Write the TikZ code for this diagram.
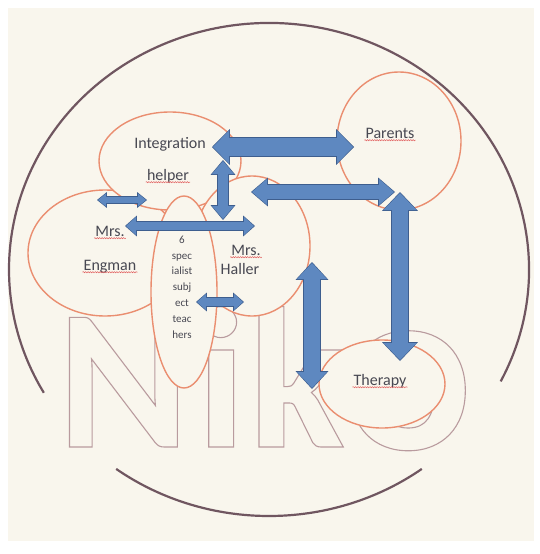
\documentclass[tikz,border=0pt]{standalone}
\usepackage{fontspec}
\setmainfont{Carlito}
\usetikzlibrary{arrows.meta,shapes.geometric,decorations.pathmorphing}
\definecolor{paper}{RGB}{249,246,237}
\definecolor{ringcol}{RGB}{112,86,96}
\definecolor{ovalcol}{RGB}{234,142,112}
\definecolor{txtcol}{RGB}{72,72,82}
\definecolor{arrowfill}{RGB}{94,136,192}
\definecolor{arrowedge}{RGB}{62,94,142}
\definecolor{squig}{RGB}{225,95,95}
\definecolor{lettercol}{RGB}{185,155,158}

% stroke the glyphs only (text render mode 1)
\newcommand{\outlined}[1]{\special{pdf:literal direct 1 Tr}#1\special{pdf:literal direct 0 Tr}}

\tikzset{blk/.code n args={3}{%
  \pgfmathsetmacro\blkw{#1+1.4}%
  \pgfmathsetmacro\blkh{#2+2.8}%
  \pgfmathsetmacro\blkl{#3+1.8}%
  \edef\blkpre{\noexpand\tikzset{preaction={draw=arrowedge, line width=\blkw pt, shorten <=-1pt, shorten >=-1pt, {Triangle[width=\blkh pt,length=\blkl pt,line width=0pt]}-{Triangle[width=\blkh pt,length=\blkl pt,line width=0pt]}}}}%
  \blkpre
  \tikzset{draw=arrowfill, line width=#1pt, {Triangle[width=#2pt,length=#3pt,line width=0pt]}-{Triangle[width=#2pt,length=#3pt,line width=0pt]}}}}

\begin{document}
\begin{tikzpicture}[x=1pt,y=-1pt,inner sep=1pt]
\tikzstyle{oval}=[ellipse, draw=ovalcol, line width=1.4pt, fill=paper, inner sep=0pt]
\tikzstyle{lbl}=[text=txtcol, font=\fontsize{16}{18}\selectfont, anchor=base]
\tikzstyle{squiggle}=[draw=squig, line width=0.5pt, decorate, decoration={snake, amplitude=0.6pt, segment length=2.4pt}]
\tikzstyle{spell}=[append after command={([yshift=-2.2pt]\tikzlastnode.base west) edge[squiggle] ([yshift=-2.2pt]\tikzlastnode.base east)}]
\tikzstyle{letter}=[text=lettercol, line width=1.1pt, anchor=base west, inner sep=0pt]
\tikzstyle{ring}=[draw=ringcol, line width=2.2pt]
\useasboundingbox (0,0) rectangle (540,554);
\fill[white] (0,0) rectangle (540,554);
\fill[paper] (8,8) rectangle (534,541);
% big letters
\node[letter, font=\fontsize{200}{200}\bfseries\selectfont] (ltrn) at (57,447) {\outlined{N}};
\node[letter, font=\fontsize{200}{200}\bfseries\selectfont] (ltri) at (196,447) {\outlined{i}};
\node[letter, font=\fontsize{200}{200}\bfseries\selectfont] (ltrk) at (248,447) {\outlined{k}};
\node[letter, font=\fontsize{240}{240}\bfseries\selectfont] (ltro) at (343,449) {\outlined{o}};
% ovals
\node[oval, minimum width=154pt, minimum height=126pt] (eng) at (105,253) {};
\node[oval, minimum width=142pt, minimum height=98pt] (ih) at (170,161) {};
\node[oval, minimum width=116pt, minimum height=140pt] (hal) at (252,246) {};
\node[oval, minimum width=124pt, minimum height=138pt] (par) at (399,141) {};
\node[oval, minimum width=66pt, minimum height=192pt] (spec) at (184,292) {};
\node[oval, minimum width=126pt, minimum height=88pt] (ther) at (382,384) {};
% labels
\node[lbl] (iht1) at (170,148) {Integration};
\node[lbl,spell] (iht2) at (168,180) {helper};
\node[lbl,spell] (part) at (390,138) {Parents};
\node[lbl,spell] (engt1) at (110,236) {Mrs.};
\node[lbl,spell] (engt2) at (110,270) {Engman};
\node[lbl,spell] (halt1) at (246,255) {Mrs.};
\node[lbl] (halt2) at (240,274) {Haller};
\node[lbl,spell] (thert) at (380,385) {Therapy};
\node[text=txtcol, font=\fontsize{11}{15.8}\selectfont, align=center, inner sep=0pt] (spect) at (182,287) {6\\spec\\ialist\\subj\\ect\\teac\\hers};
% outer ring
\draw[ring] (269,269.5) ++(27:260 and 246.5) arc[start angle=27, end angle=-210, x radius=260, y radius=246.5];
\draw[ring] (269,269.5) ++(54:260 and 246.5) arc[start angle=54, end angle=126, x radius=260, y radius=246.5];
% arrow ends
\coordinate (ip1) at (213,147); \coordinate (ip2) at (353,147);
\coordinate (ih1) at (223,161); \coordinate (ih2) at (223,219);
\coordinate (hp1) at (252,192); \coordinate (hp2) at (394,192);
\coordinate (pt1) at (400,193); \coordinate (pt2) at (400,360);
\coordinate (ht1) at (312,263); \coordinate (ht2) at (312,388);
\coordinate (ie1) at (98,200);  \coordinate (ie2) at (146,200);
\coordinate (eh1) at (126,226); \coordinate (eh2) at (254,226);
\coordinate (sh1) at (197,302); \coordinate (sh2) at (243,302);
\path (ip1) edge[blk={18}{33}{16}] (ip2);
\path (ih1) edge[blk={10}{22}{13}] (ih2);
\path (hp1) edge[blk={14}{26}{15}] (hp2);
\path (pt1) edge[blk={16}{33}{17}] (pt2);
\path (ht1) edge[blk={16}{30}{16}] (ht2);
\path (ie1) edge[blk={6}{13}{8}] (ie2);
\path (eh1) edge[blk={8}{18}{10}] (eh2);
\path (sh1) edge[blk={8}{16}{9}] (sh2);
\end{tikzpicture}
\end{document}
